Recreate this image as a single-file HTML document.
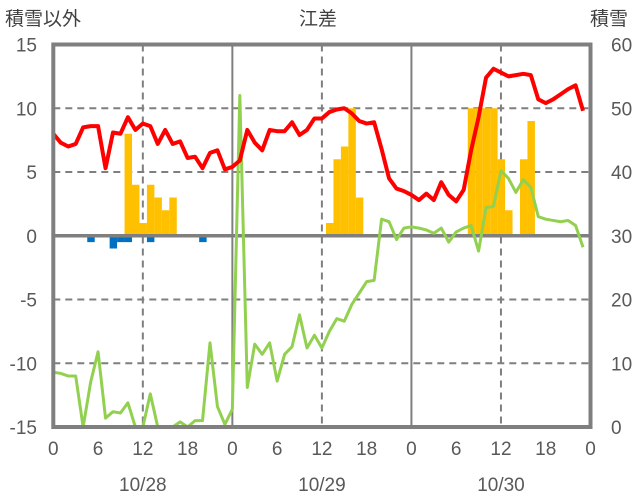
<!DOCTYPE html>
<html><head><meta charset="utf-8">
<style>
html,body{margin:0;padding:0;background:#fff;}
svg{display:block;font-family:"Liberation Sans","Noto Sans CJK JP",sans-serif;}
</style></head>
<body>
<svg id="chart" width="636" height="501" viewBox="0 0 636 501" xmlns="http://www.w3.org/2000/svg">
<text x="318" y="25" font-size="19" fill="#404040" text-anchor="middle">江差</text>
<text x="5" y="25" font-size="19" fill="#404040">積雪以外</text>
<text x="590" y="25" font-size="19" fill="#404040">積雪</text>
<g id="grid"></g>
<g id="bars"></g>
<g id="lines"></g>
<g id="frame"></g>
<g id="labels"></g>
</svg>
<script>
const leftTicks=[-15,-10,-5,0,5,10,15];
const rightTicks=[0,10,20,30,40,50,60];
const hourTicks=[0,6,12,18,24,30,36,42,48,54,60,66,72];
const hourTickLabels=["0","6","12","18","0","6","12","18","0","6","12","18","0"];
const dateLabels=["10/28","10/29","10/30"];
const redSeries=[8.0,7.3,7.0,7.2,8.5,8.6,8.6,5.3,8.1,8.0,9.3,8.3,8.8,8.6,7.2,8.3,7.2,7.4,6.1,6.2,5.3,6.5,6.7,5.2,5.4,5.9,8.3,7.3,6.7,8.3,8.2,8.2,8.9,7.9,8.3,9.2,9.2,9.7,9.9,10.0,9.6,9.0,8.8,8.9,6.8,4.5,3.7,3.5,3.2,2.8,3.3,2.8,4.2,3.2,2.7,3.6,6.7,9.3,12.4,13.1,12.8,12.5,12.6,12.7,12.6,10.7,10.4,10.7,11.1,11.5,11.8,9.8];
const greenSeries=[-10.7,-10.8,-11.0,-11.0,-15,-11.5,-9.1,-14.3,-13.8,-13.9,-13.1,-15,-15,-12.4,-15,-15,-15,-14.6,-15,-14.5,-14.5,-8.4,-13.4,-14.8,-13.6,11.0,-11.9,-8.5,-9.3,-8.4,-11.4,-9.3,-8.7,-6.2,-8.8,-7.8,-8.8,-7.5,-6.5,-6.7,-5.4,-4.5,-3.6,-3.5,1.3,1.1,-0.3,0.6,0.7,0.6,0.45,0.2,0.6,-0.5,0.3,0.6,0.8,-1.2,2.2,2.3,5.1,4.5,3.4,4.4,3.8,1.5,1.3,1.2,1.1,1.2,0.8,-0.9];
const snowHours=[10,11,12,13,14,15,16,37,38,39,40,41,56,57,58,59,60,61,63,64];
const snowValues=[8,4,1,4,3,2,3,1,6,7,10,3,10,10,10,10,6,2,6,9];
const otherHours=[5,8,9,10,13,20];
const otherValues=[-0.5,-1.0,-0.5,-0.5,-0.5,-0.5];
const baseSeries=[0,0];

const X0=53.3,X1=590.5,Y0=427,Y1=44.5;
const xs=h=>X0+(X1-X0)*h/72;
const ys=v=>Y0-(v+15)/30*(Y0-Y1);
const yr=v=>Y0-v/60*(Y0-Y1);
const NS="http://www.w3.org/2000/svg";
function mk(tag,parent,attrs){const e=document.createElementNS(NS,tag);for(const k in attrs)e.setAttribute(k,attrs[k]);document.getElementById(parent).appendChild(e);return e;}

// grid
leftTicks.forEach(t=>{
  if(t===-15||t===15||t===0)return;
  const l=mk('line','grid',{x1:X0,x2:X1,y1:ys(t),y2:ys(t),stroke:'#7f7f7f','stroke-width':2,'stroke-dasharray':'7,5'});
  
  
});
hourTicks.forEach(h=>{
  if(h===0||h===72)return;
  const solid=h%24===0, half=h%12===0;
  if(!half)return;
  const l=mk('line','grid',{x1:xs(h),x2:xs(h),y1:Y1,y2:Y0,stroke:'#7f7f7f','stroke-width':solid?2:2,'stroke-dasharray':solid?'none':'7,5'});
  
  
});
// bars
snowHours.forEach((h,i)=>{
  const v=snowValues[i];
  const r=mk('rect','bars',{x:xs(h-0.45),y:ys(v),width:xs(1)-X0,height:ys(0)-ys(v),fill:'#ffc000'});
  
  
});
otherHours.forEach((h,i)=>{
  const v=otherValues[i];
  const r=mk('rect','bars',{x:xs(h-0.45),y:ys(0),width:xs(1)-X0,height:ys(v)-ys(0),fill:'#0070c0'});
  
  
});
// zero line
const z=mk('line','lines',{x1:X0,x2:X1,y1:ys(0),y2:ys(0),stroke:'#7f7f7f','stroke-width':3.5});


function poly(arr,color,name){
  const pts=arr.map((v,h)=>xs(h)+','+ys(v)).join(' ');
  const p=mk('polyline','lines',{points:pts,fill:'none',stroke:color,'stroke-width':name==='red-series'?4:3,'stroke-linejoin':'round'});
  
  
}
poly(greenSeries,'#92d050','green-series');
poly(redSeries,'#ff0000','red-series');
const b=mk('line','lines',{x1:X0,x2:X1,y1:yr(baseSeries[0]),y2:yr(baseSeries[1]),stroke:'#7030a0','stroke-width':3});


// frame
const f=mk('rect','frame',{x:X0,y:Y1,width:X1-X0,height:Y0-Y1,fill:'none',stroke:'#7f7f7f','stroke-width':4});


// labels
leftTicks.forEach(t=>{
  const e=mk('text','labels',{x:37,y:ys(t)+7,'font-size':19,fill:'#595959','text-anchor':'end'});
  e.textContent=String(t);
  
  
});
rightTicks.forEach(t=>{
  const e=mk('text','labels',{x:611,y:yr(t)+7,'font-size':19,fill:'#595959','text-anchor':'start'});
  e.textContent=String(t);
  
  
});
hourTicks.forEach((h,i)=>{
  const e=mk('text','labels',{x:xs(h),y:455,'font-size':19,fill:'#595959','text-anchor':'middle'});
  e.textContent=hourTickLabels[i];
  
  
});
dateLabels.forEach((d,i)=>{
  const e=mk('text','labels',{x:xs(12+24*i),y:491,'font-size':19,fill:'#595959','text-anchor':'middle'});
  e.textContent=d;
  
  
});
</script>
</body></html>
